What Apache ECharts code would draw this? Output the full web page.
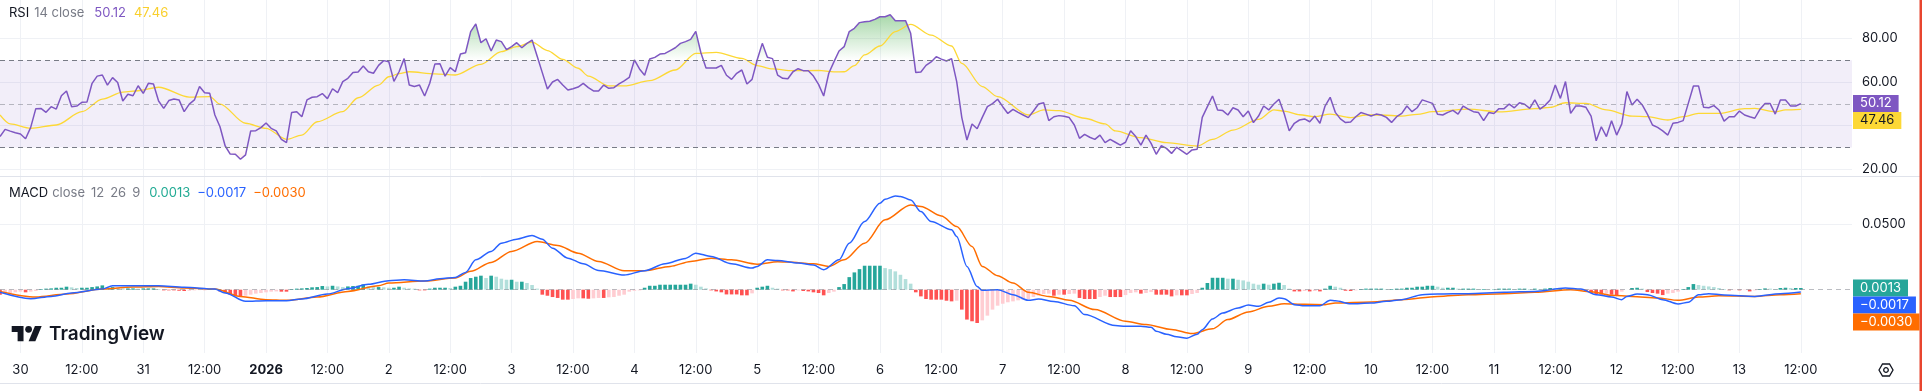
<!DOCTYPE html>
<html><head><meta charset="utf-8">
<script src="https://cdn.jsdelivr.net/npm/echarts@6/dist/echarts.min.js"></script>
<style>html,body{margin:0;padding:0;background:#fff;overflow:hidden}#c{width:1922px;height:391px}</style>
</head><body><div id="c"></div>
<script>
// ---------------- DATA ----------------
// hourly samples, first sample = hour -4 (Dec 29 20:00), hour 0 = Dec 30 00:00
const startHour = -4;

const rsi = [
 35.0, 38.3, 37.5, 36.8,
 36.2, 34.0, 39.2, 47.8, 47.9, 46.1, 48.7, 47.6, 53.7, 55.9, 48.7, 49.0,
 50.7, 50.8, 59.4, 62.7, 63.2, 58.6, 62.0, 59.8, 51.3, 54.4, 53.7, 58.3,
 54.8, 59.4, 59.1, 51.3, 47.9, 51.5, 52.2, 51.8, 46.4, 49.9, 51.8, 57.9,
 55.1, 54.8, 44.9, 39.5, 30.8, 27.0, 26.9, 24.6, 26.6, 37.6, 37.7, 39.1,
 41.2, 38.8, 37.6, 33.7, 32.2, 46.0, 46.4, 44.1, 51.8, 53.0, 53.3, 54.7,
 52.4, 56.9, 55.1, 60.2, 61.7, 64.4, 64.6, 67.3, 64.7, 64.0, 67.6, 69.8,
 69.3, 60.3, 64.7, 70.7, 58.6, 57.9, 58.6, 53.6, 59.4, 68.2, 68.4, 62.7,
 66.6, 64.7, 72.8, 73.4, 83.1, 86.6, 78.0, 79.8, 74.2, 79.2, 78.5, 74.8,
 76.2, 78.0, 75.7, 77.7, 79.2, 71.8, 64.3, 56.8, 60.0, 61.2, 58.6, 56.3,
 56.9, 57.7, 59.4, 57.4, 55.9, 55.9, 58.6, 57.1, 57.4, 59.1, 60.5, 62.1,
 70.1, 66.0, 63.1, 70.5, 71.3, 72.8, 73.1, 74.4, 75.7, 77.7, 78.5, 79.5,
 83.2, 73.4, 66.4, 66.4, 66.4, 67.6, 63.1, 61.2, 64.0, 65.5, 59.1, 61.2,
 70.1, 77.7, 71.3, 70.7, 63.2, 61.7, 61.5, 64.7, 66.1, 65.2, 65.2, 62.7,
 58.9, 53.6, 64.0, 69.2, 74.2, 76.2, 83.1, 84.6, 87.2, 87.6, 87.8, 88.7,
 89.9, 89.9, 90.8, 88.1, 88.1, 88.1, 82.3, 64.3, 64.6, 67.6, 69.2, 71.6,
 70.5, 69.6, 70.7, 60.2, 43.7, 33.4, 40.8, 38.6, 43.8, 48.7, 50.1, 52.1,
 48.7, 45.6, 47.5, 46.1, 44.9, 43.7, 46.7, 49.9, 50.5, 42.3, 44.1, 44.6,
 44.3, 43.7, 40.3, 34.2, 36.0, 34.7, 33.7, 35.7, 32.2, 33.7, 32.4, 31.1,
 32.4, 37.7, 35.0, 31.1, 35.7, 31.9, 26.9, 30.8, 29.6, 27.3, 30.1, 28.5,
 26.9, 28.9, 29.2, 43.8, 48.7, 53.6, 47.2, 46.9, 44.9, 48.2, 47.2, 44.1,
 46.7, 41.4, 44.4, 49.0, 47.2, 49.9, 52.1, 45.6, 37.6, 41.1, 42.6, 43.1,
 41.8, 44.4, 41.1, 49.0, 53.0, 46.1, 43.1, 41.4, 41.7, 44.1, 46.0, 45.3,
 44.4, 45.3, 44.9, 43.8, 41.5, 44.1, 45.6, 49.0, 46.4, 48.2, 51.8, 51.0,
 50.2, 45.2, 44.9, 46.1, 47.0, 45.3, 49.0, 47.6, 46.4, 46.0, 42.3, 46.0,
 45.6, 47.8, 47.8, 49.9, 48.2, 50.5, 49.8, 47.9, 51.8, 47.6, 49.3, 51.8,
 58.6, 52.5, 60.2, 45.6, 49.0, 49.0, 48.4, 44.4, 33.1, 39.5, 35.0, 42.3,
 35.7, 40.8, 55.6, 49.5, 52.1, 49.5, 45.3, 40.3, 39.2, 37.6, 35.7, 41.1,
 41.5, 42.3, 50.2, 58.2, 58.2, 48.4, 48.2, 49.2, 47.2, 42.1, 44.1, 44.1,
 46.7, 44.9, 44.1, 43.4, 47.5, 50.1, 50.1, 45.3, 51.8, 51.8, 49.0, 49.0,
 50.12
];

// RSI-based moving average: [hour, value]
const rsiMA = [
 [-4,44.9],[-2,40.8],[2,38.8],[7,40.3],[12,46.4],[16,52.2],[20,55.4],[23,56.0],[27,57.6],
 [33,53.1],[37,53.3],[39,49.9],[44,41.1],[48,38.8],[52,33.7],[55,35.7],[58,41.8],[63,46.4],
 [66,52.8],[70,58.6],[72,62.4],[74,63.8],[76,64.7],[81,63.7],[85,63.2],[90,68.1],[94,73.9],
 [97,76.2],[100,78.3],[103,74.4],[106,70.4],[109,66.3],[111,62.7],[115,58.2],[118,58.2],
 [123,60.6],[128,65.5],[132,73.1],[136,73.6],[141,70.8],[144,67.5],[147,66.0],[151,65.2],
 [156,65.3],[159,64.6],[161,64.7],[163,67.5],[165,72.4],[168,76.5],[171,83.1],[174,86.4],
 [178,81.5],[182,76.5],[184,68.5],[188,57.9],[191,53.3],[197,44.9],[200,47.2],[203,46.9],
 [208,43.4],[212,40.8],[214,37.6],[219,34.5],[224,32.2],[230,30.7],[233,33.7],[237,38.0],
 [242,42.9],[245,47.2],[247,46.7],[250,45.0],[253,44.1],[256,45.3],[260,43.7],[263,44.9],
 [266,44.9],[270,44.4],[273,45.2],[276,46.4],[283,47.6],[289,46.3],[296,47.8],[299,48.4],
 [302,50.5],[306,50.2],[310,47.2],[315,44.4],[318,44.1],[322,42.6],[325,44.1],[328,45.6],
 [332,45.6],[337,47.8],[339,47.9],[343,46.4],[345,47.2],[348,47.46]
];

// MACD line: [hour, value]
const macdLine = [
 [-4,-0.0020],[2,-0.0069],[6,-0.0051],[10,-0.0025],[16,0.0005],[18,0.0030],[22,0.0030],[27,0.0030],
 [32,0.0018],[38,0.0005],[40,-0.0025],[44,-0.0089],[48,-0.0084],[52,-0.0084],[55,-0.0071],[60,-0.0033],
 [64,0.0008],[68,0.0041],[72,0.0069],[75,0.0076],[79,0.0066],[82,0.0084],[85,0.0094],[87,0.0132],
 [89,0.0228],[92,0.0292],[94,0.0355],[97,0.0386],[100,0.0414],[102,0.0386],[104,0.0317],[107,0.0241],
 [110,0.0198],[113,0.0147],[118,0.0112],[122,0.0145],[126,0.0198],[130,0.0239],[132,0.0279],[135,0.0254],
 [139,0.0198],[143,0.0165],[144,0.0178],[146,0.0228],[148,0.0223],[152,0.0203],[155,0.0188],[157,0.0152],
 [160,0.0228],[162,0.0355],[165,0.0520],[168,0.0660],[169,0.0690],[171,0.0715],[172,0.0712],[174,0.0685],
 [176,0.0596],[178,0.0520],[182,0.0457],[183,0.0406],[185,0.0178],[187,0.0025],[188,-0.0005],[191,0.0000],
 [194,-0.0038],[197,-0.0081],[199,-0.0071],[202,-0.0091],[206,-0.0122],[208,-0.0190],[214,-0.0274],[216,-0.0279],
 [219,-0.0279],[221,-0.0287],[222,-0.0317],[224,-0.0340],[226,-0.0360],[228,-0.0370],[230,-0.0340],[231,-0.0305],
 [233,-0.0223],[235,-0.0178],[238,-0.0140],[240,-0.0117],[242,-0.0127],[244,-0.0096],[246,-0.0063],[247,-0.0069],
 [249,-0.0114],[251,-0.0122],[254,-0.0122],[256,-0.0081],[257,-0.0084],[260,-0.0107],[264,-0.0102],[267,-0.0089],
 [270,-0.0076],[274,-0.0038],[277,-0.0033],[283,-0.0030],[290,-0.0020],[296,-0.0013],[302,0.0013],[305,0.0005],
 [308,-0.0038],[311,-0.0056],[313,-0.0076],[314,-0.0051],[316,-0.0033],[318,-0.0038],[321,-0.0076],[324,-0.0109],
 [326,-0.0096],[328,-0.0038],[330,-0.0030],[333,-0.0041],[339,-0.0051],[344,-0.0030],[348,-0.0017]
];

// Signal line: [hour, value]
const signalLine = [
 [-4,-0.0013],[3,-0.0056],[9,-0.0033],[16,0.0005],[22,0.0020],[27,0.0025],[32,0.0013],[38,0.0005],
 [43,-0.0051],[48,-0.0076],[52,-0.0081],[58,-0.0056],[64,-0.0013],[70,0.0030],[72,0.0051],[79,0.0066],
 [85,0.0089],[88,0.0140],[92,0.0208],[96,0.0292],[101,0.0368],[105,0.0338],[109,0.0279],[113,0.0216],
 [118,0.0145],[122,0.0145],[127,0.0178],[131,0.0216],[135,0.0241],[139,0.0228],[144,0.0195],[148,0.0213],
 [150,0.0211],[155,0.0198],[158,0.0178],[161,0.0228],[165,0.0355],[169,0.0533],[174,0.0647],[176,0.0635],
 [180,0.0563],[183,0.0482],[186,0.0330],[188,0.0178],[191,0.0107],[194,0.0051],[197,-0.0020],[201,-0.0051],
 [205,-0.0081],[210,-0.0152],[216,-0.0241],[220,-0.0266],[225,-0.0304],[229,-0.0335],[233,-0.0299],[236,-0.0228],
 [240,-0.0170],[244,-0.0127],[247,-0.0107],[251,-0.0112],[255,-0.0114],[257,-0.0102],[264,-0.0094],[270,-0.0076],
 [277,-0.0051],[283,-0.0038],[290,-0.0030],[296,-0.0020],[303,0.0000],[307,-0.0015],[311,-0.0043],[315,-0.0051],
 [320,-0.0063],[324,-0.0081],[328,-0.0056],[332,-0.0046],[339,-0.0051],[344,-0.0038],[348,-0.0030]
];

// MACD histogram, hourly from startHour
const hist = [
 -0.0038,-0.0030,-0.0025,-0.0020,
 -0.0015,-0.0020,-0.0015,-0.0010,0.0005,0.0008,0.0010,0.0015,0.0015,0.0023,0.0018,0.0013,
 0.0015,0.0015,0.0020,0.0025,0.0033,0.0020,0.0020,0.0015,0.0010,0.0010,0.0010,0.0008,
 0.0010,0.0010,0.0010,0.0005,-0.0005,-0.0005,-0.0005,-0.0008,-0.0010,-0.0008,-0.0005,-0.0003,
 -0.0003,0.0005,0.0003,-0.0013,-0.0025,-0.0038,-0.0051,-0.0056,-0.0046,-0.0038,-0.0030,-0.0025,
 -0.0020,-0.0015,-0.0013,-0.0015,-0.0015,0.0005,0.0008,0.0010,0.0013,0.0018,0.0020,0.0028,
 0.0025,0.0030,0.0025,0.0020,0.0025,0.0028,0.0030,0.0041,0.0025,0.0020,0.0020,0.0018,
 0.0015,0.0015,0.0023,0.0015,0.0010,0.0008,-0.0005,-0.0005,0.0008,0.0015,0.0015,0.0015,
 0.0013,0.0023,0.0030,0.0061,0.0089,0.0099,0.0107,0.0089,0.0107,0.0099,0.0084,0.0076,
 0.0076,0.0061,0.0061,0.0051,0.0036,0.0008,-0.0038,-0.0046,-0.0056,-0.0063,-0.0076,-0.0076,
 -0.0071,-0.0066,-0.0066,-0.0069,-0.0066,-0.0063,-0.0063,-0.0058,-0.0056,-0.0046,-0.0038,-0.0015,
 -0.0008,-0.0005,0.0015,0.0030,0.0030,0.0038,0.0038,0.0038,0.0038,0.0038,0.0038,0.0046,
 0.0038,0.0023,0.0010,-0.0005,-0.0013,-0.0020,-0.0036,-0.0036,-0.0036,-0.0043,-0.0043,-0.0028,
 0.0015,0.0023,0.0030,0.0015,0.0008,-0.0005,-0.0005,-0.0013,-0.0005,-0.0010,-0.0013,-0.0020,
 -0.0025,-0.0043,-0.0025,-0.0015,0.0020,0.0043,0.0096,0.0132,0.0157,0.0183,0.0183,0.0183,
 0.0183,0.0165,0.0157,0.0140,0.0114,0.0081,0.0046,-0.0020,-0.0051,-0.0071,-0.0076,-0.0076,
 -0.0076,-0.0084,-0.0089,-0.0084,-0.0152,-0.0228,-0.0241,-0.0254,-0.0234,-0.0198,-0.0152,-0.0122,
 -0.0107,-0.0096,-0.0089,-0.0081,-0.0076,-0.0071,-0.0056,-0.0046,-0.0033,-0.0030,-0.0046,-0.0038,
 -0.0038,-0.0033,-0.0030,-0.0063,-0.0071,-0.0071,-0.0071,-0.0056,-0.0046,-0.0056,-0.0056,-0.0056,
 -0.0041,-0.0025,-0.0020,-0.0030,-0.0025,-0.0018,-0.0038,-0.0038,-0.0038,-0.0051,-0.0043,-0.0043,
 -0.0043,-0.0033,-0.0025,0.0015,0.0051,0.0091,0.0091,0.0091,0.0084,0.0084,0.0076,0.0071,
 0.0061,0.0046,0.0038,0.0046,0.0038,0.0046,0.0053,0.0036,0.0008,-0.0013,-0.0013,-0.0010,
 -0.0013,-0.0010,-0.0013,0.0008,0.0030,0.0023,0.0015,-0.0008,-0.0010,-0.0005,0.0005,0.0008,
 0.0008,0.0008,0.0008,0.0005,0.0005,0.0008,0.0008,0.0015,0.0015,0.0023,0.0023,0.0030,
 0.0030,0.0023,0.0015,0.0015,0.0015,0.0008,0.0008,0.0008,0.0008,0.0005,0.0005,0.0003,
 0.0003,0.0008,0.0008,0.0008,0.0005,0.0008,0.0008,0.0005,0.0008,0.0005,0.0008,0.0013,
 0.0010,0.0010,0.0005,0.0005,0.0000,-0.0005,-0.0013,-0.0025,-0.0033,-0.0038,-0.0030,-0.0038,
 -0.0046,-0.0015,0.0000,0.0013,0.0015,0.0008,-0.0018,-0.0025,-0.0030,-0.0041,-0.0030,-0.0025,
 -0.0015,0.0005,0.0020,0.0043,0.0036,0.0030,0.0025,0.0020,0.0013,0.0005,-0.0005,-0.0003,
 -0.0005,-0.0003,-0.0013,-0.0005,0.0005,0.0010,0.0008,0.0005,0.0013,0.0015,0.0013,0.0013,
 0.0013
];

// time axis ticks (hours from Dec 30 00:00) and their labels
const xTickHours = [0,12,24,36,48,60,72,84,96,108,120,132,144,156,168,180,192,204,216,228,240,252,264,276,288,300,312,324,336,348];
const xTickText  = ['30','12:00','31','12:00','2026','12:00','2','12:00','3','12:00','4','12:00','5','12:00','6','12:00','7','12:00','8','12:00','9','12:00','10','12:00','11','12:00','12','12:00','13','12:00'];
const rsiGridValues = [20,40,60,80];
const rsiLabelValues = [20,60,80];
const rsiLevels = [70,50,30];
const macdGridValues = [0.05];
const macdLabelValues = [0.05];

// ---------------- LAYOUT / STYLE ----------------
const FONT = 'Inter, Roboto, "Noto Sans", sans-serif';
const X_MIN = -4, X_MAX = 358;
const GR = 70;                       // right price-scale width
const RSI_MIN = 16.95, RSI_MAX = 97.56, RSI_H = 176;
const MACD_TOP = 176, MACD_H = 177, MACD_MIN = -0.04832, MACD_MAX = 0.08679;
const rsiPx = RSI_H / (RSI_MAX - RSI_MIN);
const obH = (RSI_MAX - 70) * rsiPx;
const osTop = (RSI_MAX - 30) * rsiPx;

const toXY = arr => arr.map((v, i) => [startHour + i, v]);
const fmt4 = v => (v < 0 ? '\u2212' : '') + Math.abs(v).toFixed(4);

function xAxisCfg(gi, labels, split) {
  return {
    gridIndex: gi, type: 'value', min: X_MIN, max: X_MAX,
    axisLine: {show: false},
    axisTick: {show: false, customValues: xTickHours},
    axisLabel: {
      show: labels, customValues: xTickHours, margin: 11, color: '#131722', fontSize: 13, fontFamily: FONT,
      formatter: v => { const t = xTickText[xTickHours.indexOf(Math.round(v))]; return t === '2026' ? '{b|' + t + '}' : t; },
      rich: {b: {fontWeight: 'bold', fontSize: 13, fontFamily: FONT, color: '#131722'}}
    },
    splitLine: {show: split, lineStyle: {color: '#eff1f5', width: 1}}
  };
}

const chart = echarts.init(document.getElementById('c'), null, {renderer: 'canvas', width: 1922, height: 391});

const dashDark = {color: '#787b86', type: [5, 4], width: 1};
const dashLight = {color: 'rgba(120,123,134,0.5)', type: [5, 4], width: 1};

const option = {
  animation: false,
  backgroundColor: '#ffffff',
  grid: [
    {left: 0, right: GR, top: 0, height: RSI_H},
    {left: 0, right: GR, top: 0, height: obH},
    {left: 0, right: GR, top: osTop, height: RSI_H - osTop},
    {left: 0, right: GR, top: MACD_TOP, height: MACD_H}
  ],
  xAxis: [xAxisCfg(0, false, true), xAxisCfg(1, false, false), xAxisCfg(2, false, false), xAxisCfg(3, true, true)],
  yAxis: [
    {gridIndex: 0, type: 'value', position: 'right', min: RSI_MIN, max: RSI_MAX,
     axisLine: {show: false}, axisTick: {show: false, customValues: rsiGridValues},
     axisLabel: {customValues: rsiLabelValues, formatter: v => v.toFixed(2), margin: 10, color: '#131722', fontSize: 13, fontFamily: FONT},
     splitLine: {show: true, lineStyle: {color: '#eff1f5'}}},
    {gridIndex: 1, type: 'value', min: 70, max: RSI_MAX, show: false},
    {gridIndex: 2, type: 'value', min: RSI_MIN, max: 30, show: false},
    {gridIndex: 3, type: 'value', position: 'right', min: MACD_MIN, max: MACD_MAX,
     axisLine: {show: false}, axisTick: {show: false, customValues: macdGridValues},
     axisLabel: {customValues: macdLabelValues, formatter: v => v.toFixed(4), margin: 10, color: '#131722', fontSize: 13, fontFamily: FONT},
     splitLine: {show: true, lineStyle: {color: '#eff1f5'}}}
  ],
  series: [
    {id: 'band', type: 'line', xAxisIndex: 0, yAxisIndex: 0, data: toXY(rsi), symbol: 'none', lineStyle: {opacity: 0}, silent: true, z: 1,
     markArea: {silent: true, itemStyle: {color: 'rgba(126,87,194,0.1)'}, data: [[{yAxis: 30}, {yAxis: 70}]]},
     markLine: {silent: true, symbol: ['none', 'none'], label: {show: false},
       data: rsiLevels.map(l => ({yAxis: l, lineStyle: l === 50 ? dashLight : dashDark}))}},
    {id: 'ob', type: 'line', xAxisIndex: 1, yAxisIndex: 1, data: toXY(rsi), symbol: 'none', silent: true, clip: true, z: 2,
     lineStyle: {opacity: 0, width: 0}, areaStyle: {origin: 'start', color: 'rgba(76,175,80,0.4)'}},
    {id: 'os', type: 'line', xAxisIndex: 2, yAxisIndex: 2, data: toXY(rsi), symbol: 'none', silent: true, clip: true, z: 2,
     lineStyle: {opacity: 0, width: 0}, areaStyle: {origin: 'end', color: 'rgba(255,82,82,0.3)'}},
    {id: 'ma', type: 'line', xAxisIndex: 0, yAxisIndex: 0, data: rsiMA, symbol: 'none', smooth: 0.3, smoothMonotone: 'x',
     lineStyle: {color: '#fdd835', width: 1.3}, z: 3},
    {id: 'rsi', type: 'line', xAxisIndex: 0, yAxisIndex: 0, data: toXY(rsi), symbol: 'none',
     lineStyle: {color: '#7e57c2', width: 1.5}, z: 4},
    {id: 'hist', type: 'bar', xAxisIndex: 3, yAxisIndex: 3, data: toXY(hist), barWidth: 3.6, z: 2,
     itemStyle: {color: p => { const i = p.dataIndex, v = hist[i], pv = i > 0 ? hist[i - 1] : v;
        if (v >= 0) return v >= pv ? '#26a69a' : '#b2dfdb'; return v <= pv ? '#ff5252' : '#ffcdd2'; }},
     markLine: {silent: true, symbol: ['none', 'none'], label: {show: false}, data: [{yAxis: 0, lineStyle: dashLight}]}},
    {id: 'signal', type: 'line', xAxisIndex: 3, yAxisIndex: 3, data: signalLine, symbol: 'none', smooth: 0.3, smoothMonotone: 'x',
     lineStyle: {color: '#ff6d00', width: 1.5}, z: 3},
    {id: 'macd', type: 'line', xAxisIndex: 3, yAxisIndex: 3, data: macdLine, symbol: 'none', smooth: 0.3, smoothMonotone: 'x',
     lineStyle: {color: '#2962ff', width: 1.5}, z: 4}
  ]
};
chart.setOption(option);

// ---- second pass: gradients and price tags placed through the axes' own scales ----
const yOf = (axis, v) => chart.convertToPixel({yAxisIndex: axis}, v);
const y100 = yOf(0, 100), y70 = yOf(0, 70), y30 = yOf(0, 30), y0 = yOf(0, 0);
const LG = echarts.graphic.LinearGradient;

const last = a => a[a.length - 1];
const lastPair = a => a[a.length - 1][1];

function stackTags(list, axis) {
  const H = 17; let prevBottom = -1e9; const out = [];
  list.forEach(t => {
    let top = yOf(axis, t.v) - H / 2;
    if (top < prevBottom) top = prevBottom;
    prevBottom = top + H;
    out.push({type: 'text', x: 1853, y: top, z: 100,
      style: {text: t.txt, fill: t.fg, backgroundColor: t.bg, padding: [2, 7, 2, 7], font: '13px ' + FONT,
              lineHeight: 13, align: 'left', verticalAlign: 'top'}});
  });
  return out;
}

const rsiTags = stackTags([
  {v: last(rsi), txt: last(rsi).toFixed(2), bg: '#7e57c2', fg: '#ffffff'},
  {v: lastPair(rsiMA), txt: lastPair(rsiMA).toFixed(2), bg: '#fdd835', fg: '#131722'}
], 0);
const macdTags = stackTags([
  {v: last(hist), txt: fmt4(last(hist)), bg: '#26a69a', fg: '#ffffff'},
  {v: lastPair(macdLine), txt: fmt4(lastPair(macdLine)), bg: '#2962ff', fg: '#ffffff'},
  {v: lastPair(signalLine), txt: fmt4(lastPair(signalLine)), bg: '#ff6d00', fg: '#ffffff'}
], 3);

const hdrY1 = 13.5, hdrY2 = 193.5;
const graphics = [
  // pane separator and bottom border
  {type: 'line', shape: {x1: 0, y1: 176.5, x2: 1922, y2: 176.5}, style: {stroke: '#e0e3eb', lineWidth: 1}, z: 50},
  {type: 'line', shape: {x1: 0, y1: 383.5, x2: 1922, y2: 383.5}, style: {stroke: '#e0e3eb', lineWidth: 1}, z: 50},
  {type: 'rect', shape: {x: 1919.5, y: 0, width: 2.5, height: 391}, style: {fill: '#e8452f'}, z: 50},
  // headers
  {type: 'text', x: 9, y: hdrY1, z: 60, style: {
    text: '{a|RSI}{b|14 close}{c|' + last(rsi).toFixed(2) + '}{d|' + lastPair(rsiMA).toFixed(2) + '}',
    verticalAlign: 'middle', font: '13px ' + FONT,
    rich: {a: {fill: '#131722', font: '13px ' + FONT, padding: [0, 5, 0, 0]},
           b: {fill: '#787b86', font: '13px ' + FONT, padding: [0, 10, 0, 0]},
           c: {fill: '#7e57c2', font: '13px ' + FONT, padding: [0, 8, 0, 0]},
           d: {fill: '#f9cf2c', font: '13px ' + FONT}}}},
  {type: 'text', x: 9, y: hdrY2, z: 60, style: {
    text: '{a|MACD}{b|close}{b|12}{b|26}{e|9}{c|' + fmt4(last(hist)) + '}{d|' + fmt4(lastPair(macdLine)) + '}{f|' + fmt4(lastPair(signalLine)) + '}',
    verticalAlign: 'middle', font: '13px ' + FONT,
    rich: {a: {fill: '#131722', font: '13px ' + FONT, padding: [0, 4, 0, 0]},
           b: {fill: '#787b86', font: '13px ' + FONT, padding: [0, 6, 0, 0]},
           e: {fill: '#787b86', font: '13px ' + FONT, padding: [0, 9, 0, 0]},
           c: {fill: '#22ab94', font: '13px ' + FONT, padding: [0, 7, 0, 0]},
           d: {fill: '#2962ff', font: '13px ' + FONT, padding: [0, 7, 0, 0]},
           f: {fill: '#ff6d00', font: '13px ' + FONT}}}},
  // TradingView logo
  {type: 'group', x: 11.7, y: 322.6, scaleX: 0.845, scaleY: 0.845, z: 60, children: [
    {type: 'polygon', shape: {points: [[14,22],[7,22],[7,11],[0,11],[0,4],[14,4]]}, style: {fill: '#131722'}},
    {type: 'polygon', shape: {points: [[28,22],[20,22],[27.5,4],[35.5,4]]}, style: {fill: '#131722'}},
    {type: 'circle', shape: {cx: 20, cy: 8, r: 4}, style: {fill: '#131722'}}
  ]},
  {type: 'text', x: 49, y: 334, z: 60, style: {text: 'TradingView', fill: '#131722', font: '600 19px ' + FONT, verticalAlign: 'middle'}},
  // settings icon
  {type: 'group', x: 1886, y: 370, z: 60, children: [
    {type: 'polygon', shape: {points: [[-7,0],[-3.5,-6],[3.5,-6],[7,0],[3.5,6],[-3.5,6]]}, style: {fill: 'none', stroke: '#131722', lineWidth: 1.3}},
    {type: 'circle', shape: {cx: 0, cy: 0, r: 2.3}, style: {fill: 'none', stroke: '#131722', lineWidth: 1.3}}
  ]}
].concat(rsiTags, macdTags);

chart.setOption({
  series: [
    {id: 'ob', areaStyle: {origin: 'start', color: new LG(0, y100, 0, y70, [
      {offset: 0, color: 'rgba(76,175,80,1)'}, {offset: 1, color: 'rgba(76,175,80,0)'}], true)}},
    {id: 'os', areaStyle: {origin: 'end', color: new LG(0, y30, 0, y0, [
      {offset: 0, color: 'rgba(255,82,82,0)'}, {offset: 1, color: 'rgba(255,82,82,1)'}], true)}}
  ],
  graphic: graphics
});
if (rsi.length !== 353 || hist.length !== 353) {
  chart.setOption({graphic: graphics.concat([{type: 'text', x: 600, y: 100, z: 200, style: {text: 'LEN ' + rsi.length + ' ' + hist.length, fill: 'red', font: '20px sans-serif'}}])});
}
</script>
</body></html>
